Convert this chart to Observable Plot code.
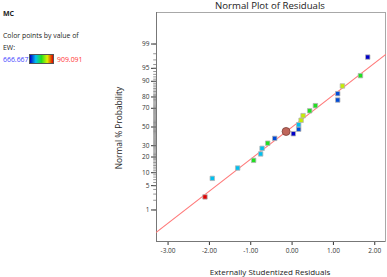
<!DOCTYPE html>
<html>
<head>
<meta charset="utf-8">
<script src="https://cdn.jsdelivr.net/npm/d3@7"></script>
<script src="https://cdn.jsdelivr.net/npm/@observablehq/plot@0.6"></script>
<style>
  html, body { margin: 0; padding: 0; background: #fff; }
  #wrap { position: relative; width: 387px; height: 277px; font-family: "Open Sans", sans-serif; color: #222; overflow: hidden; }
  #wrap svg { position: absolute; left: 0; top: 0; overflow: visible; }
  .t { position: absolute; white-space: nowrap; }
</style>
</head>
<body>
<div id="wrap">
  <div class="t" style="left:3px;top:9px;font-size:7px;font-weight:bold;">MC</div>
  <div class="t" style="left:3px;top:31px;font-size:6.9px;">Color points by value of</div>
  <div class="t" style="left:3px;top:43px;font-size:6.9px;">EW:</div>
  <div class="t" id="lo" style="left:3px;top:55px;font-size:6.9px;color:#4040ff;"></div>
  <div id="bar" style="position:absolute;left:29px;top:54px;width:25px;height:10px;border:0.5px solid #555;box-sizing:border-box;"></div>
  <div class="t" id="hi" style="left:57px;top:55px;font-size:6.9px;color:#ff3030;"></div>
  <div class="t" id="title" style="left:155px;width:230px;text-align:center;top:-1px;font-size:9.6px;">Normal Plot of Residuals</div>
  <div class="t" id="xlab" style="left:155px;width:230px;text-align:center;top:266px;font-size:8px;">Externally Studentized Residuals</div>
  <div class="t" id="ylab" style="left:118px;top:128px;font-size:8.4px;transform:translate(-50%,-50%) rotate(-90deg);">Normal % Probability</div>
</div>
<script>
// ---- data ----
const residuals = [-2.107, -1.93, -1.317, -0.93, -0.76, -0.726, -0.59, -0.42, 0.031, 0.16,
                   0.16, 0.218, 0.266, 0.426, 0.564, 1.104, 1.104, 1.218, 1.654, 1.83];
const probPct   = [2.5, 7.5, 12.5, 17.5, 22.5, 27.5, 32.5, 37.5, 42.5, 47.5,
                   52.5, 57.5, 62.5, 67.5, 72.5, 77.5, 82.5, 87.5, 92.5, 97.5];
const ewValues  = [909.091, 727.273, 727.273, 787.879, 727.273, 727.273, 787.879, 690, 666.667, 690,
                   727.273, 840, 840, 787.879, 787.879, 690, 690, 840, 787.879, 666.667];
const highlightX = [-0.145];
const highlightPct = [45];
const refLineX = [-3.28, 2.26];
const refLinePct = [0.16, 97.88];
const xTicks = [-3, -2, -1, 0, 1, 2];
const yTickLabels = [1, 5, 10, 20, 30, 50, 70, 80, 90, 95, 99];
const ewMin = 666.667, ewMax = 909.091;
const ewStops = [666.667, 727.273, 787.879, 848.485, 909.091];
const ewColors = ["#0000c8", "#00c0f0", "#20e020", "#e0f000", "#e00000"];

// inverse normal CDF (Acklam approximation) for the probability axis
function probit(p) {
  const a=[-3.969683028665376e+01,2.209460984245205e+02,-2.759285104469687e+02,1.383577518672690e+02,-3.066479806614716e+01,2.506628277459239e+00];
  const b=[-5.447609879822406e+01,1.615858368580409e+02,-1.556989798598866e+02,6.680131188771972e+01,-1.328068155288572e+01];
  const c=[-7.784894002430293e-03,-3.223964580411365e-01,-2.400758277161838e+00,-2.549732539343734e+00,4.374664141464968e+00,2.938163982698783e+00];
  const d=[7.784695709041462e-03,3.224671290700398e-01,2.445134137142996e+00,3.754408661907416e+00];
  const pl=0.02425, ph=1-pl;
  if (p<pl){const q=Math.sqrt(-2*Math.log(p));return (((((c[0]*q+c[1])*q+c[2])*q+c[3])*q+c[4])*q+c[5])/((((d[0]*q+d[1])*q+d[2])*q+d[3])*q+1);}
  if (p<=ph){const q=p-0.5,r=q*q;return (((((a[0]*r+a[1])*r+a[2])*r+a[3])*r+a[4])*r+a[5])*q/(((((b[0]*r+b[1])*r+b[2])*r+b[3])*r+b[4])*r+1);}
  const q=Math.sqrt(-2*Math.log(1-p));return -(((((c[0]*q+c[1])*q+c[2])*q+c[3])*q+c[4])*q+c[5])/((((d[0]*q+d[1])*q+d[2])*q+d[3])*q+1);
}
const z = pct => probit(pct / 100);

const xDomain = [-3.28, 2.26];
const zDomain = [-3.21, 3.21];
const points = residuals.map((r, i) => ({x: r, z: z(probPct[i]), ew: ewValues[i]}));
const highlight = highlightX.map((x, i) => ({x, z: z(highlightPct[i])}));
const refLine = refLineX.map((x, i) => ({x, z: z(refLinePct[i])}));
const yTickZ = yTickLabels.map(z);
const minorTicks = d3.range(1, 100).map(p => ({zz: z(p), a: xDomain[0] - 0.08, b: xDomain[0]}));

const colorScale = d3.scaleLinear().domain(ewStops).range(ewColors);

document.getElementById("lo").textContent = ewMin.toFixed(3);
document.getElementById("hi").textContent = ewMax.toFixed(3);
document.getElementById("bar").style.background =
  "linear-gradient(to right," + ewColors.map((c, i) => c + " " + ((ewStops[i]-ewMin)/(ewMax-ewMin)*100).toFixed(1) + "%").join(",") + ")";

const chart = Plot.plot({
  width: 387,
  height: 277,
  marginLeft: 156,
  marginRight: 2,
  marginTop: 12,
  marginBottom: 36,
  style: {fontFamily: "Open Sans, sans-serif", fontSize: "6.5px", color: "#333", background: "transparent", overflow: "visible"},
  x: {domain: xDomain, ticks: xTicks, tickFormat: d => d.toFixed(2), tickSize: 4, tickPadding: 3, label: null},
  y: {domain: zDomain, ticks: yTickZ, tickFormat: d => String(yTickLabels[yTickZ.indexOf(d)]), tickSize: 5, tickPadding: 2, label: null},
  marks: [
    Plot.frame({stroke: "#a8a8a8", strokeWidth: 1}),
    Plot.link(minorTicks, {x1: "a", x2: "b", y1: "zz", y2: "zz", stroke: "#7a7a7a", strokeWidth: 0.8}),
    Plot.ruleX([xDomain[0]], {stroke: "#777", strokeWidth: 1}),
    Plot.ruleY([zDomain[0]], {stroke: "#777", strokeWidth: 1}),
    Plot.line(refLine, {x: "x", y: "z", stroke: "#ff7b7b", strokeWidth: 1.2}),
    Plot.dot(points, {x: "x", y: "z", symbol: "square", r: 2.5, fill: d => colorScale(d.ew), stroke: "#b4b4b4", strokeWidth: 0.8}),
    Plot.dot(highlight, {x: "x", y: "z", r: 4, fill: "#c0665a", stroke: "#7a4038", strokeWidth: 0.8})
  ]
});
document.getElementById("wrap").appendChild(chart);
</script>
</body>
</html>
